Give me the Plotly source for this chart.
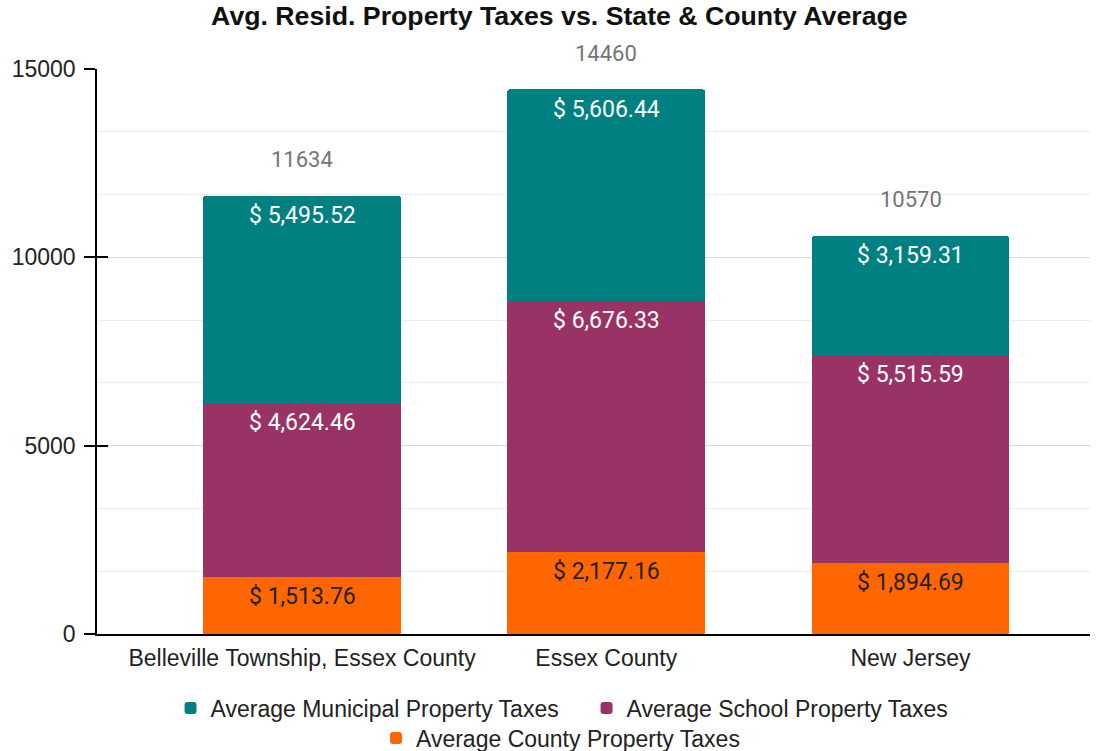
import plotly.graph_objects as go

categories = ["Belleville Township, Essex County", "Essex County", "New Jersey"]
county = [1513.76, 2177.16, 1894.69]
school = [4624.46, 6676.33, 5515.59]
municipal = [5495.52, 5606.44, 3159.31]
totals = [11634, 14460, 10570]

series = [
    ("Average County Property Taxes", county, "#FF6600", "#222222", "legend2"),
    ("Average School Property Taxes", school, "#993366", "white", "legend"),
    ("Average Municipal Property Taxes", municipal, "#008080", "white", "legend"),
]

AX_FONT = "Liberation Sans, Arial"

fig = go.Figure()
base = [0.0] * len(categories)
for name, vals, color, tcol, leg in series:
    fig.add_trace(go.Bar(
        x=categories, y=vals, name=name, legend=leg,
        marker=dict(color=color, line=dict(width=0)),
        width=0.65, hoverinfo="x+y",
    ))
    base = [b + v for b, v in zip(base, vals)]
    for c, top, v in zip(categories, base, vals):
        fig.add_annotation(x=c, y=top, text=f"$ {v:,.2f}", showarrow=False,
                           yanchor="middle", yshift=-20,
                           font=dict(family="Roboto", size=23, color=tcol))

# invisible helper trace so the inner-tick overlay axis is drawn
fig.add_trace(go.Scatter(x=categories, y=totals, yaxis="y2", mode="markers",
                         marker=dict(opacity=0), showlegend=False, hoverinfo="skip"))

for c, t in zip(categories, totals):
    fig.add_annotation(x=c, y=t, text=str(t), showarrow=False, yshift=36,
                       font=dict(family="Roboto", size=22, color="#757575"))

fig.update_layout(
    width=1099, height=751,
    barmode="stack", barcornerradius=3,
    plot_bgcolor="white", paper_bgcolor="white",
    margin=dict(l=97, r=9, t=69, b=117),
    title=dict(text="<b>Avg. Resid. Property Taxes vs. State & County Average</b>",
               x=0.509, xanchor="center", y=0.979, yanchor="middle", yref="container",
               font=dict(family=AX_FONT, size=26.7, color="#111111")),
    legend=dict(orientation="h", x=0.5337, xref="container", xanchor="center",
                y=0.0573, yanchor="middle", entrywidth=371,
                yref="container", traceorder="reversed", bgcolor="rgba(0,0,0,0)",
                font=dict(family=AX_FONT, size=23, color="#222222")),
    legend2=dict(orientation="h", x=0.51, xref="container", xanchor="center",
                 y=0.0173, yanchor="middle",
                 yref="container", bgcolor="rgba(0,0,0,0)",
                 font=dict(family=AX_FONT, size=23, color="#222222")),
    xaxis=dict(range=[-0.674, 2.59], showline=True, linecolor="black", linewidth=1.5,
               ticks="", ticklabelstandoff=3, automargin=False,
               tickfont=dict(family=AX_FONT, size=23, color="#222222")),
    yaxis=dict(range=[0, 15000], dtick=5000, tickformat="d", showline=True,
               linecolor="black", linewidth=1.5, automargin=False,
               ticks="outside", ticklen=11, tickwidth=1.5, tickcolor="black",
               ticklabelstandoff=4,
               showgrid=True, gridcolor="#d9d9d9", gridwidth=1,
               minor=dict(dtick=5000/3, showgrid=True, gridcolor="#ececec", gridwidth=1),
               tickfont=dict(family=AX_FONT, size=23, color="#222222"),
               zeroline=False),
    yaxis2=dict(range=[0, 15000], dtick=5000, overlaying="y", side="left", anchor="x",
                ticks="inside", ticklen=11, tickwidth=1.5, tickcolor="black",
                showticklabels=False, showgrid=False, zeroline=False, showline=False),
)

fig.write_html("out.html", config={"displayModeBar": False},
               post_script="document.body.style.margin='0';")
